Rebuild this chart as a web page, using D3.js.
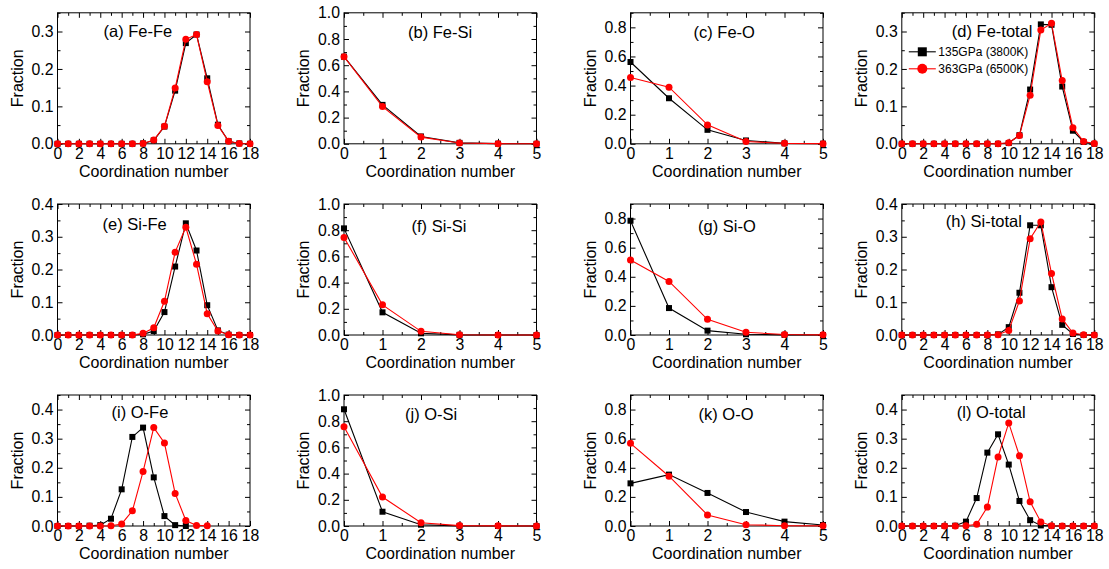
<!DOCTYPE html>
<html><head><meta charset="utf-8">
<script src="https://cdn.jsdelivr.net/npm/d3@7"></script>
<style>body{margin:0;background:#fff} svg{display:block;font-family:Arial,"Liberation Sans",sans-serif}</style>
</head><body><svg id="c" width="1109" height="569"></svg>
<script>
// ---------- data ----------
const cnLong = [0,1,2,3,4,5,6,7,8,9,10,11,12,13,14,15,16,17,18];
const cnShort = [0,1,2,3,4,5];
const seriesNames = ["135GPa (3800K)", "363GPa (6500K)"];
const panelLabels = ["(a) Fe-Fe","(b) Fe-Si","(c) Fe-O","(d) Fe-total",
                     "(e) Si-Fe","(f) Si-Si","(g) Si-O","(h) Si-total",
                     "(i) O-Fe","(j) O-Si","(k) O-O","(l) O-total"];
const xTicksLong = [0,2,4,6,8,10,12,14,16,18];
const xTicksShort = [0,1,2,3,4,5];
const yTicks03 = [0,0.1,0.2,0.3];
const yTicks04 = [0,0.1,0.2,0.3,0.4];
const yTicks08 = [0,0.2,0.4,0.6,0.8];
const yTicks10 = [0,0.2,0.4,0.6,0.8,1.0];
const yMax = [0.35,1.0,0.9,0.35, 0.4,1.0,0.9,0.4, 0.45,1.0,0.9,0.45];

const feFe135 = [0,0,0,0,0,0,0,0,0.001,0.009,0.046,0.142,0.269,0.292,0.175,0.051,0.007,0.001,0];
const feFe363 = [0,0,0,0,0,0,0,0,0.001,0.010,0.047,0.149,0.279,0.292,0.166,0.049,0.007,0.001,0];
const feSi135 = [0.665,0.297,0.056,0.007,0.001,0];
const feSi363 = [0.665,0.284,0.051,0.006,0.001,0];
const feO135 = [0.562,0.313,0.096,0.023,0.003,0.001];
const feO363 = [0.455,0.389,0.130,0.016,0.003,0.001];
const feTot135 = [0,0,0,0,0,0,0,0,0,0,0.002,0.023,0.145,0.319,0.318,0.153,0.035,0.005,0];
const feTot363 = [0,0,0,0,0,0,0,0,0,0,0.003,0.022,0.130,0.304,0.322,0.169,0.043,0.006,0.001];

const siFe135 = [0,0,0,0,0,0,0,0,0.002,0.012,0.070,0.209,0.341,0.258,0.091,0.014,0.001,0,0];
const siFe363 = [0,0,0,0,0,0,0,0,0.005,0.022,0.103,0.253,0.329,0.216,0.065,0.012,0.001,0,0];
const siSi135 = [0.814,0.173,0.013,0.001,0,0];
const siSi363 = [0.745,0.230,0.028,0.002,0,0];
const siO135 = [0.785,0.185,0.030,0.005,0.001,0];
const siO363 = [0.515,0.368,0.108,0.019,0.003,0.001];
const siTot135 = [0,0,0,0,0,0,0,0,0,0.002,0.024,0.129,0.335,0.335,0.146,0.031,0.003,0,0];
const siTot363 = [0,0,0,0,0,0,0,0,0,0.001,0.014,0.104,0.294,0.345,0.188,0.049,0.006,0.001,0];

const oFe135 = [0,0,0,0.001,0.003,0.025,0.126,0.306,0.338,0.167,0.034,0.003,0];
const oFe363 = [0,0,0,0,0,0.001,0.007,0.052,0.187,0.338,0.285,0.112,0.019,0.002,0.001];
const oSi135 = [0.891,0.109,0.010,0.001,0,0];
const oSi363 = [0.758,0.221,0.025,0.003,0.001,0];
const oO135 = [0.293,0.353,0.227,0.096,0.030,0.007];
const oO363 = [0.568,0.342,0.076,0.009,0.002,0.001];
const oTot135 = [0,0,0,0,0,0.001,0.015,0.096,0.252,0.315,0.211,0.086,0.020,0.002,0,0,0,0,0];
const oTot363 = [0,0,0,0,0,0,0.001,0.006,0.065,0.237,0.354,0.241,0.083,0.014,0.001,0,0,0,0];

// ---------- layout ----------
const colLeft = [57.5, 344, 630.5, 901.8];
const rowTop = [12.8, 204, 395];
const W = 192.5, H = 131;
const labelPos = [[46,24],[64,25.5],[63,25.5],[50,24],
                  [45,26],[67.5,27.5],[67.5,28],[44,22.5],
                  [54,22.5],[61,25],[68,25],[55,23]];
const BLACK = "#000", RED = "#ff0000";

const panels = [
  {cn: cnLong,  yt: yTicks03, s: [feFe135, feFe363]},
  {cn: cnShort, yt: yTicks10, s: [feSi135, feSi363]},
  {cn: cnShort, yt: yTicks08, s: [feO135, feO363]},
  {cn: cnLong,  yt: yTicks03, s: [feTot135, feTot363], legend: true},
  {cn: cnLong,  yt: yTicks04, s: [siFe135, siFe363]},
  {cn: cnShort, yt: yTicks10, s: [siSi135, siSi363]},
  {cn: cnShort, yt: yTicks08, s: [siO135, siO363]},
  {cn: cnLong,  yt: yTicks04, s: [siTot135, siTot363]},
  {cn: cnLong,  yt: yTicks04, s: [oFe135, oFe363]},
  {cn: cnShort, yt: yTicks10, s: [oSi135, oSi363]},
  {cn: cnShort, yt: yTicks08, s: [oO135, oO363]},
  {cn: cnLong,  yt: yTicks04, s: [oTot135, oTot363]}
];

const svg = d3.select("#c");

panels.forEach((p, i) => {
  const col = i % 4, row = Math.floor(i / 4);
  const g = svg.append("g").attr("transform", `translate(${colLeft[col]},${rowTop[row]})`);
  const xMax = p.cn[p.cn.length - 1];
  const x = d3.scaleLinear().domain([0, xMax]).range([0, W]);
  const y = d3.scaleLinear().domain([0, yMax[i]]).range([H, 0]);
  const xt = xMax === 18 ? xTicksLong : xTicksShort;
  const xMinor = xMax === 18 ? d3.range(1, 18, 2) : d3.range(0.5, 5, 1);
  const yStep = p.yt[1] - p.yt[0];
  const yMinor = d3.range(yStep / 2, yMax[i] + 1e-9, yStep).filter(v => !p.yt.some(t => Math.abs(t - v) < 1e-9));

  function styleAxis(sel) {
    sel.select(".domain").remove();
    sel.selectAll(".tick line").attr("stroke", "#000").attr("stroke-width", 1);
    sel.selectAll("text").attr("fill", "#000").style("font-size", "15.8px");
  }
  // bottom
  g.append("g").attr("transform", `translate(0,${H})`)
    .call(d3.axisBottom(x).tickValues(xt).tickSizeInner(-5).tickSizeOuter(0).tickPadding(3.5).tickFormat(d3.format("d")))
    .call(styleAxis);
  g.append("g").attr("transform", `translate(0,${H})`)
    .call(d3.axisBottom(x).tickValues(xMinor).tickSizeInner(-3).tickSizeOuter(0).tickFormat(""))
    .call(styleAxis);
  // top
  g.append("g").call(d3.axisTop(x).tickValues(xt).tickSizeInner(-5).tickSizeOuter(0).tickFormat("")).call(styleAxis);
  g.append("g").call(d3.axisTop(x).tickValues(xMinor).tickSizeInner(-3).tickSizeOuter(0).tickFormat("")).call(styleAxis);
  // left
  g.append("g")
    .call(d3.axisLeft(y).tickValues(p.yt).tickSizeInner(-5).tickSizeOuter(0).tickPadding(4).tickFormat(d3.format(".1f")))
    .call(styleAxis);
  g.append("g").call(d3.axisLeft(y).tickValues(yMinor).tickSizeInner(-3).tickSizeOuter(0).tickFormat("")).call(styleAxis);
  // right
  g.append("g").attr("transform", `translate(${W},0)`)
    .call(d3.axisRight(y).tickValues(p.yt).tickSizeInner(-5).tickSizeOuter(0).tickFormat("")).call(styleAxis);
  g.append("g").attr("transform", `translate(${W},0)`)
    .call(d3.axisRight(y).tickValues(yMinor).tickSizeInner(-3).tickSizeOuter(0).tickFormat("")).call(styleAxis);

  // frame
  g.append("rect").attr("x", 0).attr("y", 0).attr("width", W).attr("height", H)
    .attr("fill", "none").attr("stroke", "#000").attr("stroke-width", 1);

  // titles
  g.append("text").attr("x", W / 2).attr("y", H + 33).attr("text-anchor", "middle")
    .style("font-size", "16px").text("Coordination number");
  g.append("text").attr("transform", `translate(-35,${H / 2}) rotate(-90)`).attr("text-anchor", "middle")
    .style("font-size", "16px").text("Fraction");
  g.append("text").attr("x", labelPos[i][0]).attr("y", labelPos[i][1])
    .style("font-size", "16.5px").text(panelLabels[i]);

  // series
  const line = d3.line().x((d, k) => x(p.cn[k])).y(d => y(d));
  // black squares
  g.append("path").datum(p.s[0]).attr("d", line).attr("fill", "none").attr("stroke", BLACK).attr("stroke-width", 1.1);
  g.selectAll(".sq").data(p.s[0]).enter().append("rect")
    .attr("x", (d, k) => x(p.cn[k]) - 3).attr("y", d => y(d) - 3)
    .attr("width", 6).attr("height", 6).attr("fill", BLACK);
  // red circles
  g.append("path").datum(p.s[1]).attr("d", line).attr("fill", "none").attr("stroke", RED).attr("stroke-width", 1.1);
  g.selectAll(".ci").data(p.s[1]).enter().append("circle")
    .attr("cx", (d, k) => x(p.cn[k])).attr("cy", d => y(d))
    .attr("r", 3.5).attr("fill", RED);

  if (p.legend) {
    const lg = g.append("g");
    [0, 1].forEach(k => {
      const ly = 39 + k * 17;
      lg.append("line").attr("x1", 7).attr("x2", 34).attr("y1", ly).attr("y2", ly)
        .attr("stroke", k ? RED : BLACK).attr("stroke-width", 1.1);
      if (k === 0) lg.append("rect").attr("x", 20.5 - 4.5).attr("y", ly - 4.5).attr("width", 9).attr("height", 9).attr("fill", BLACK);
      else lg.append("circle").attr("cx", 20.5).attr("cy", ly).attr("r", 5).attr("fill", RED);
      lg.append("text").attr("x", 36.5).attr("y", ly + 4.3).style("font-size", "12px").text(seriesNames[k]);
    });
  }
});
</script>
</body></html>
